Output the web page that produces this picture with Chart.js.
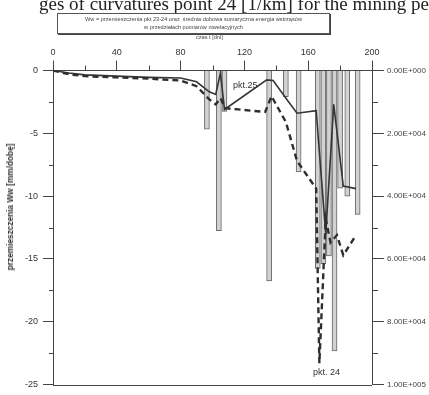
<!DOCTYPE html>
<html>
<head>
<meta charset="utf-8">
<script src="https://cdn.jsdelivr.net/npm/chart.js@4"></script>
<style>
  html, body { margin: 0; padding: 0; background: #fff; }
  #wrap { position: relative; width: 429px; height: 395px; overflow: hidden; }
  #c { position: absolute; left: 0; top: 0; }
  .caption { position: absolute; left: 39px; top: -6px; font: 19px "Liberation Serif", serif; line-height: 19px; color: #222; white-space: nowrap; }
  .legend { position: absolute; left: 57px; top: 13px; width: 271px; height: 18px; border: 1px solid #555; box-shadow: 1px 1px 0 #444;
            font: 5.6px "Liberation Sans", Arial, sans-serif; line-height: 8px; color: #444; text-align: center; padding-top: 1px; white-space: nowrap; }
  .xtitle { position: absolute; left: 196px; top: 34px; font: 5.6px "Liberation Sans", Arial, sans-serif; color: #444; }
  .ytitle { position: absolute; left: 10px; top: 207px; transform: translate(-50%, -50%) rotate(-90deg);
            font: bold 8.3px "Liberation Sans", Arial, sans-serif; color: #333; white-space: nowrap; }
</style>
</head>
<body>
<div id="wrap">
  <canvas id="c" width="429" height="395"></canvas>
  <div class="caption">ges of curvatures point 24 [1/km] for the mining pe</div>
  <div class="legend">Ww = przemieszczenia pkt 23-24 oraz&nbsp; średnia dobowa sumaryczna energia wstrząsów<br>w przedziałach pomiarów niwelacyjnych</div>
  <div class="xtitle">czas t [dni]</div>
  <div class="ytitle">przemieszczenia Ww [mm/dobę]</div>
</div>
<script>
// czas t [dni] / przemieszczenia Ww [mm/dobę] — pkt 25 (linia ciągła)
const solidT = [0, 5, 10, 20, 40, 60, 80, 90, 98, 102, 105, 107.5, 134, 138, 148, 153, 165, 171, 176, 182, 190];
const solidW = [0, -0.1, -0.2, -0.35, -0.45, -0.55, -0.6, -0.9, -1.7, -1.9, -0.2, -3.1, -0.75, -0.8, -2.55, -3.4, -3.2, -13, -2.7, -9.2, -9.4];

// pkt 24 (linia przerywana)
const dashT = [0, 10, 20, 40, 60, 80, 90, 98, 102, 105, 108, 133, 137, 146, 153, 165, 167, 171, 174, 178, 182, 190];
const dashW = [0, -0.3, -0.45, -0.55, -0.65, -0.8, -1.25, -2.3, -2.7, -2.2, -3.0, -3.3, -2.05, -4.1, -7.2, -9.4, -23.3, -11.8, -13.7, -13.1, -14.7, -13.1];

// średnia dobowa sumaryczna energia wstrząsów
const barT = [96.5, 104, 107.5, 135.5, 146, 154, 166, 169.5, 173, 176.5, 180, 184.5, 191];
const barE = [18700, 51000, 13000, 67000, 8300, 32300, 63000, 61500, 59000, 89300, 37500, 40000, 45800];

// opisy punktów
const noteText = ['pkt.25', 'pkt. 24'];
const noteT = [120.5, 171.5];
const noteW = [-1.2, -24];

const pts = (xs, ys) => xs.map((x, i) => ({ x, y: ys[i] }));

const fmtE = (v) => {
  const [m, e] = v.toExponential(2).split('e');
  const n = parseInt(e, 10);
  return `${m}E${n < 0 ? '-' : '+'}${String(Math.abs(n)).padStart(3, '0')}`;
};

const MAJOR = { x: (v) => v % 40 === 0, y: (v) => v % 5 === 0, yE: (v) => v % 20000 === 0 };
const MINOR_LEN = { x: 5, y: 4, yE: 6 };
const AXIS = '#444';

const minorTicks = {
  id: 'minorTicks',
  afterDraw(chart) {
    const c = chart.ctx, a = chart.chartArea;
    c.save();
    c.strokeStyle = AXIS;
    c.lineWidth = 1;
    c.beginPath();
    for (const id of ['x', 'y', 'yE']) {
      const s = chart.scales[id];
      s.ticks.forEach((t) => {
        if (MAJOR[id](t.value)) return;
        const p = Math.round(s.getPixelForValue(t.value)) + 0.5;
        if (id === 'x') { c.moveTo(p, a.top); c.lineTo(p, a.top - MINOR_LEN.x); }
        if (id === 'y') { c.moveTo(a.left, p); c.lineTo(a.left - MINOR_LEN.y, p); }
        if (id === 'yE') { c.moveTo(a.right, p); c.lineTo(a.right + MINOR_LEN.yE, p); }
      });
    }
    // dolna krawędź
    const b = Math.round(a.bottom) + 0.5;
    c.moveTo(a.left, b);
    c.lineTo(a.right, b);
    c.stroke();

    // opisy pkt
    c.fillStyle = '#333';
    c.font = '9px "Liberation Sans", Arial, sans-serif';
    c.textAlign = 'center';
    c.textBaseline = 'middle';
    noteText.forEach((txt, i) => {
      c.fillText(txt, chart.scales.x.getPixelForValue(noteT[i]), chart.scales.y.getPixelForValue(noteW[i]));
    });
    c.restore();
  },
};

const tickFont = { family: '"Liberation Sans", Arial, sans-serif', size: 9 };

new Chart(document.getElementById('c'), {
  type: 'bar',
  data: {
    datasets: [
      { type: 'line', label: 'pkt 24', data: pts(dashT, dashW), yAxisID: 'y', borderColor: '#2e2e2e', borderWidth: 2.4,
        borderDash: [6, 4], pointRadius: 0, tension: 0, order: 0 },
      { type: 'line', label: 'pkt 25', data: pts(solidT, solidW), yAxisID: 'y', borderColor: '#353535', borderWidth: 1.6,
        pointRadius: 0, tension: 0, order: 1 },
      { type: 'bar', label: 'energia', data: pts(barT, barE), yAxisID: 'yE', backgroundColor: '#d2d2d2',
        borderColor: '#666', borderWidth: 1, barThickness: 5, order: 2 },
    ],
  },
  options: {
    responsive: false,
    animation: false,
    layout: { padding: { bottom: 7 } },
    plugins: { legend: { display: false }, tooltip: { enabled: false } },
    scales: {
      x: {
        type: 'linear', position: 'top', min: 0, max: 200, offset: false,
        afterFit: (s) => { s.height = 70.5; },
        ticks: { stepSize: 20, autoSkip: false, maxRotation: 0, padding: 3, color: '#333', font: tickFont,
                 callback: (v) => (MAJOR.x(v) ? v : '') },
        grid: { drawOnChartArea: false, offset: false, tickLength: 10,
                tickColor: (ctx) => (ctx.tick && MAJOR.x(ctx.tick.value) ? AXIS : 'rgba(0,0,0,0)') },
        border: { color: AXIS, width: 1 },
      },
      y: {
        type: 'linear', position: 'left', min: -25, max: 0,
        afterFit: (s) => { s.width = 53; },
        ticks: { stepSize: 2.5, autoSkip: false, padding: 5, color: '#333', font: tickFont,
                 callback: (v) => (MAJOR.y(v) ? v : '') },
        grid: { drawOnChartArea: false, tickLength: 10,
                tickColor: (ctx) => (ctx.tick && MAJOR.y(ctx.tick.value) ? AXIS : 'rgba(0,0,0,0)') },
        border: { color: AXIS, width: 1 },
      },
      yE: {
        type: 'linear', position: 'right', min: 0, max: 100000, reverse: true,
        afterFit: (s) => { s.width = 57; },
        ticks: { stepSize: 10000, autoSkip: false, padding: 3, color: '#444', font: { ...tickFont, size: 8 },
                 callback: (v) => (MAJOR.yE(v) ? fmtE(v) : '') },
        grid: { drawOnChartArea: false, tickLength: 12,
                tickColor: (ctx) => (ctx.tick && MAJOR.yE(ctx.tick.value) ? AXIS : 'rgba(0,0,0,0)') },
        border: { color: AXIS, width: 1 },
      },
    },
  },
  plugins: [minorTicks],
});
</script>
</body>
</html>
